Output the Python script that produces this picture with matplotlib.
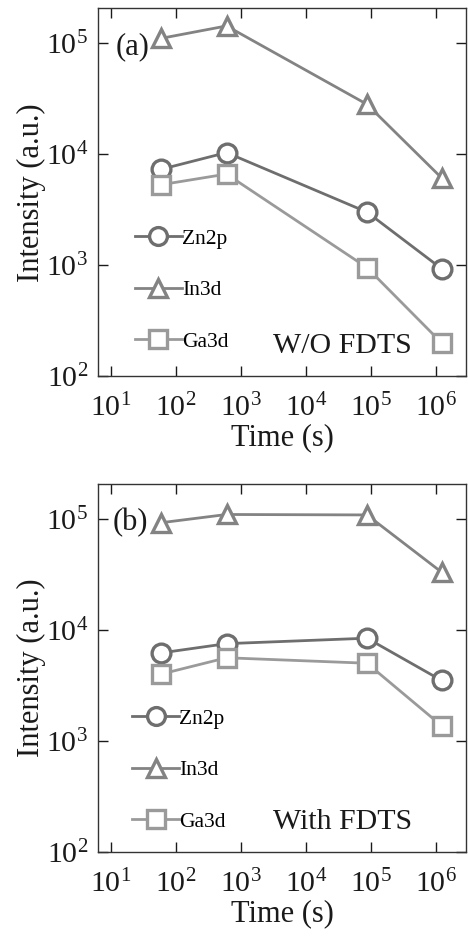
import matplotlib
matplotlib.use('Agg')
import matplotlib.pyplot as plt

plt.rcParams['font.family'] = ['Liberation Serif', 'DejaVu Serif']
plt.rcParams['mathtext.fontset'] = 'custom'
plt.rcParams['mathtext.rm'] = 'Liberation Serif'
plt.rcParams['mathtext.it'] = 'Liberation Serif:italic'

time_s = [60, 600, 86400, 1209600]

# panel (a): W/O FDTS
zn_a = [7300, 10300, 3000, 930]
in_a = [110000, 142000, 28000, 6100]
ga_a = [5300, 6600, 950, 200]

# panel (b): With FDTS
zn_b = [6200, 7500, 8400, 3500]
in_b = [92000, 109000, 108000, 33000]
ga_b = [4000, 5600, 5000, 1370]

series = ['Zn2p', 'In3d', 'Ga3d']
markers = ['o', '^', 's']
colors = ['#6e6e6e', '#838383', '#9a9a9a']

panels = [
    ('(a)', 'W/O FDTS', [zn_a, in_a, ga_a]),
    ('(b)', 'With FDTS', [zn_b, in_b, ga_b]),
]

fig = plt.figure(figsize=(4.68, 9.36), dpi=100)
boxes = [[0.209, 0.598, 0.787, 0.393], [0.209, 0.0897, 0.787, 0.393]]
leg_pos = [(0.10, 0.401), (0.093, 0.39)]
tag_x = [0.049, 0.041]

for i, (box, (tag, note, data)) in enumerate(zip(boxes, panels)):
    ax = fig.add_axes(box)
    for name, m, c, vals in zip(series, markers, colors, data):
        ax.plot(time_s, vals, marker=m, color=c, label=name, lw=2.0,
                ms=13.5, mfc='white', mec=c, mew=2.4)
    ax.set_xscale('log')
    ax.set_yscale('log')
    ax.set_xlim(10**0.8, 10**6.46)
    ax.set_ylim(100, 10**5.31)
    ax.set_xticks([10, 100, 1e3, 1e4, 1e5, 1e6])
    ax.set_yticks([100, 1e3, 1e4, 1e5])
    ax.minorticks_off()
    ax.tick_params(direction='in', length=7, width=1, top=True, right=True,
                   labelsize=21.5, colors='#1a1a1a')
    ax.tick_params(axis='x', pad=12.5)
    ax.tick_params(axis='y', pad=7)
    for s in ax.spines.values():
        s.set_linewidth(1)
        s.set_color('#333333')
    ax.set_xlabel('Time (s)', fontsize=22, labelpad=1, color='#1a1a1a')
    ax.set_ylabel('Intensity (a.u.)', fontsize=22, labelpad=0, color='#1a1a1a')
    ax.text(tag_x[i], 0.895, tag, transform=ax.transAxes, fontsize=22,
            va='center', color='#1a1a1a')
    ax.text(0.476, 0.083, note, transform=ax.transAxes, fontsize=21.5,
            va='center', color='#1a1a1a')
    ax.legend(loc='upper left', bbox_to_anchor=leg_pos[i], frameon=False,
              fontsize=15.5, handlelength=2.2, handletextpad=0.0,
              labelspacing=1.46, borderaxespad=0, borderpad=0,
              markerscale=0.95)

fig.savefig('out.png', dpi=100)
